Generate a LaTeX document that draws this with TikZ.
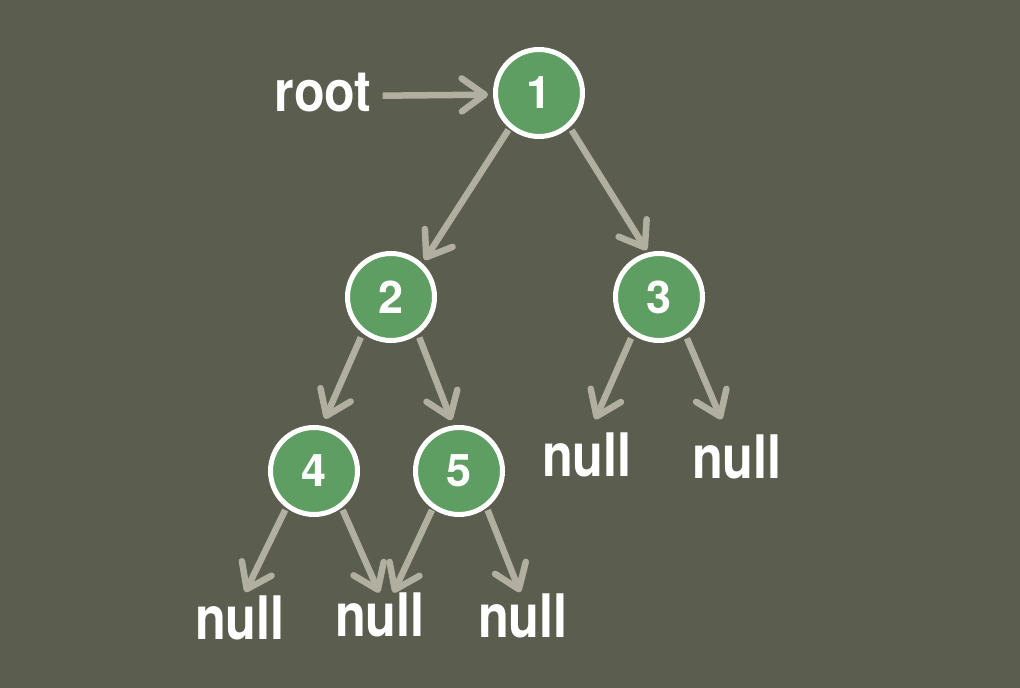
\documentclass[tikz,border=0pt]{standalone}
\usepackage{fontspec}
\setmainfont{TeX Gyre Heros}
\usepackage{graphicx}
\usetikzlibrary{arrows.meta}
\definecolor{bgc}{RGB}{91,93,79}
\definecolor{nodegreen}{RGB}{95,158,99}
\definecolor{arrowc}{RGB}{176,175,160}
\newcommand{\sqz}[1]{\scalebox{0.88}[1]{#1}}
\newcommand{\sqzn}[1]{\scalebox{0.84}[1]{#1}}
\tikzset{
  treenode/.style={circle, fill=nodegreen, draw=white, line width=5pt,
    minimum size=87pt, inner sep=0pt, text=white,
    font=\fontsize{45}{48}\selectfont\bfseries},
  nulltext/.style={text=white, font=\fontsize{60}{64}\selectfont\bfseries,
    inner xsep=2pt, inner ysep=0pt},
  rootlabel/.style={text=white, font=\fontsize{57}{60}\selectfont\bfseries,
    inner sep=4pt},
  arr/.style={draw=arrowc, line width=6.5pt,
    -{Straight Barb[length=23pt,width=33pt,round]}},
}
\begin{document}
\begin{tikzpicture}[x=1pt,y=-1pt]
  \useasboundingbox (0,0) rectangle (1020,688);
  \fill[bgc] (0,0) rectangle (1020,688);

  \node[treenode] (n1) at (539,93) {1};
  \node[treenode] (n2) at (391,297) {2};
  \node[treenode] (n3) at (659,297) {3};
  \node[treenode] (n4) at (314,471) {4};
  \node[treenode] (n5) at (459,471) {5};

  \node[rootlabel] (rootlbl) at (323,93) {\sqz{root}};

  \node[nulltext] (null3a) at (587,455) {\sqzn{null}};
  \node[nulltext] (null3b) at (737,457) {\sqzn{null}};
  \node[nulltext] (null4a) at (240,618) {\sqzn{null}};
  \node[nulltext] (null45) at (380,615) {\sqzn{null}};
  \node[nulltext] (null5b) at (523,616) {\sqzn{null}};

  \draw[arr, shorten <=7pt, shorten >=5pt] (rootlbl.-3) -- (n1.182);
  \draw[arr, shorten <=2pt, shorten >=4pt] (n1.230) -- (n2.47);
  \draw[arr, shorten <=3.5pt, shorten >=2.5pt] (n1.312) -- (n3.104);
  \draw[arr, shorten <=4.5pt, shorten >=7.5pt] (n2.232) -- (n4.80);
  \draw[arr, shorten <=3.5pt, shorten >=5.5pt] (n2.306) -- (n5.97);
  \draw[arr, shorten <=4pt, shorten >=14.5pt] (n3.235) -- (null3a.84);
  \draw[arr, shorten <=4pt, shorten >=16.5pt] (n3.305) -- (null3b.112);
  \draw[arr, shorten <=2.5pt, shorten >=4pt] (n4.233) -- (null4a.81);
  \draw[arr, shorten <=2.5pt] (n4.307) -- (null45.92);
  \draw[arr, shorten <=1.5pt] (n5.235) -- (null45.59);
  \draw[arr, shorten <=2.5pt, shorten >=1.5pt] (n5.307) -- (null5b.96);
\end{tikzpicture}
\end{document}
